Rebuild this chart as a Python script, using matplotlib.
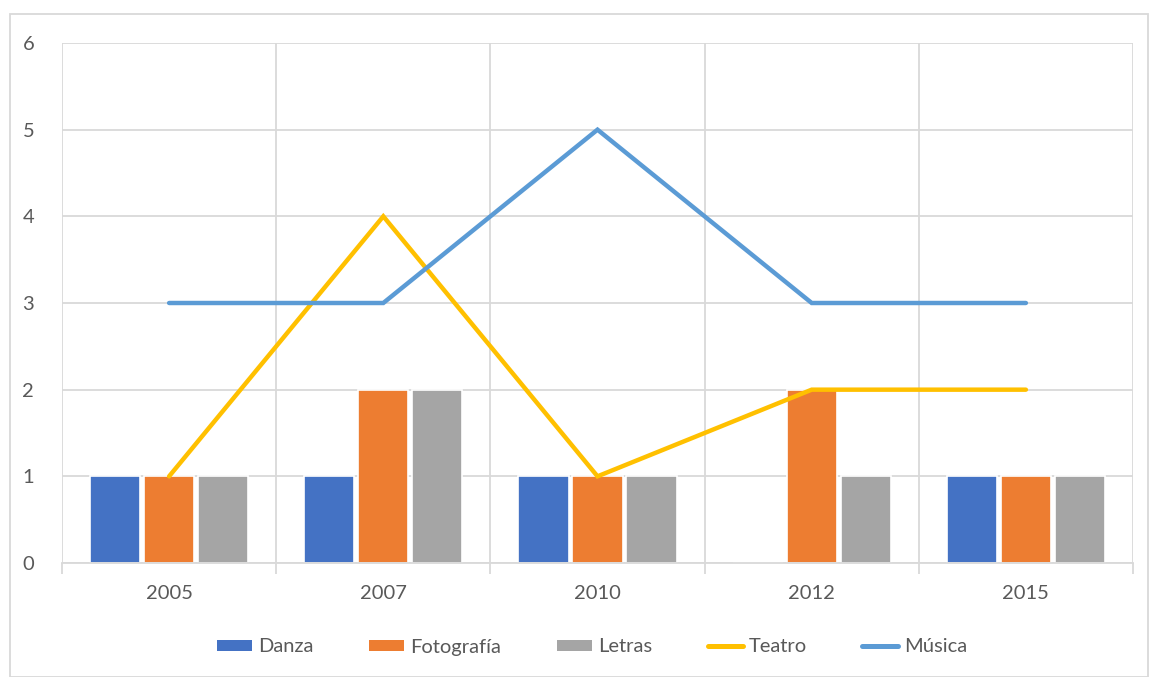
import matplotlib
matplotlib.use("Agg")
import matplotlib.pyplot as plt
from matplotlib.patches import Rectangle, Patch
from matplotlib.lines import Line2D
import numpy as np

years = ["2005", "2007", "2010", "2012", "2015"]
danza = [1, 1, 1, 0, 1]
fotografia = [1, 2, 1, 2, 1]
letras = [1, 2, 1, 1, 1]
teatro = [1, 4, 1, 2, 2]
musica = [3, 3, 5, 3, 3]

c_danza = "#4472C4"
c_foto = "#ED7D31"
c_letras = "#A5A5A5"
c_teatro = "#FFC000"
c_musica = "#5B9BD5"
grid_c = "#D9D9D9"
text_c = "#595959"

plt.rcParams['font.family'] = ['Lato', 'DejaVu Sans']

fig = plt.figure(figsize=(11.49, 6.77), dpi=100)
W, H = 1149, 677
ax = fig.add_axes([62 / W, 1 - 563 / H, (1133 - 62) / W, (563 - 43) / H])

x = np.arange(len(years))
bw = 0.235
off = 0.252
ax.bar(x - off, danza, bw, color=c_danza, edgecolor="white", linewidth=1.2, zorder=3, label="Danza")
ax.bar(x, fotografia, bw, color=c_foto, edgecolor="white", linewidth=1.2, zorder=3, label="Fotografía")
ax.bar(x + off, letras, bw, color=c_letras, edgecolor="white", linewidth=1.2, zorder=3, label="Letras")
ax.plot(x, teatro, color=c_teatro, lw=3.2, solid_capstyle="round", solid_joinstyle="miter", zorder=4, label="Teatro")
ax.plot(x, musica, color=c_musica, lw=3.2, solid_capstyle="round", solid_joinstyle="miter", zorder=5, label="Música")

ax.set_xlim(-0.5, len(years) - 0.5)
ax.set_ylim(0, 6)
ax.set_yticks(range(0, 7))
ax.set_xticks(x)
ax.set_xticklabels(years)
ax.set_xticks(np.arange(-0.5, len(years), 1.0), minor=True)

fs = 14.5
ax.grid(axis="y", which="major", color=grid_c, lw=1.3, zorder=0)
ax.grid(axis="x", which="minor", color=grid_c, lw=1.3, zorder=0)
ax.tick_params(axis="x", which="major", length=0, pad=16, labelsize=fs, labelcolor=text_c)
ax.tick_params(axis="x", which="minor", length=8, width=1.3, color=grid_c, direction="out")
ax.tick_params(axis="y", length=0, pad=20, labelsize=fs, labelcolor=text_c)
for s in ["top", "right", "left"]:
    ax.spines[s].set_visible(False)
ax.spines["bottom"].set_color(grid_c)
ax.spines["bottom"].set_linewidth(1.3)
ax.spines["bottom"].set_zorder(6)

handles = [
    Patch(facecolor=c_danza, edgecolor="none"),
    Patch(facecolor=c_foto, edgecolor="none"),
    Patch(facecolor=c_letras, edgecolor="none"),
    Line2D([], [], color=c_teatro, lw=3.6, solid_capstyle="round"),
    Line2D([], [], color=c_musica, lw=3.6, solid_capstyle="round"),
]
labels = ["Danza", "Fotografía", "Letras", "Teatro", "Música"]
leg = fig.legend(handles, labels, loc="center", bbox_to_anchor=(592 / W, 1 - 647 / H), ncol=5,
                 frameon=False, fontsize=fs, handlelength=1.75, handleheight=0.5,
                 handletextpad=0.3, columnspacing=2.75, labelcolor=text_c)

fig.patches.append(Rectangle((10 / W, 0), (W - 10) / W - 1 / W, 1 - 14 / H, transform=fig.transFigure,
                             fill=False, edgecolor=grid_c, lw=1.3))

fig.savefig("out.png", dpi=100)
